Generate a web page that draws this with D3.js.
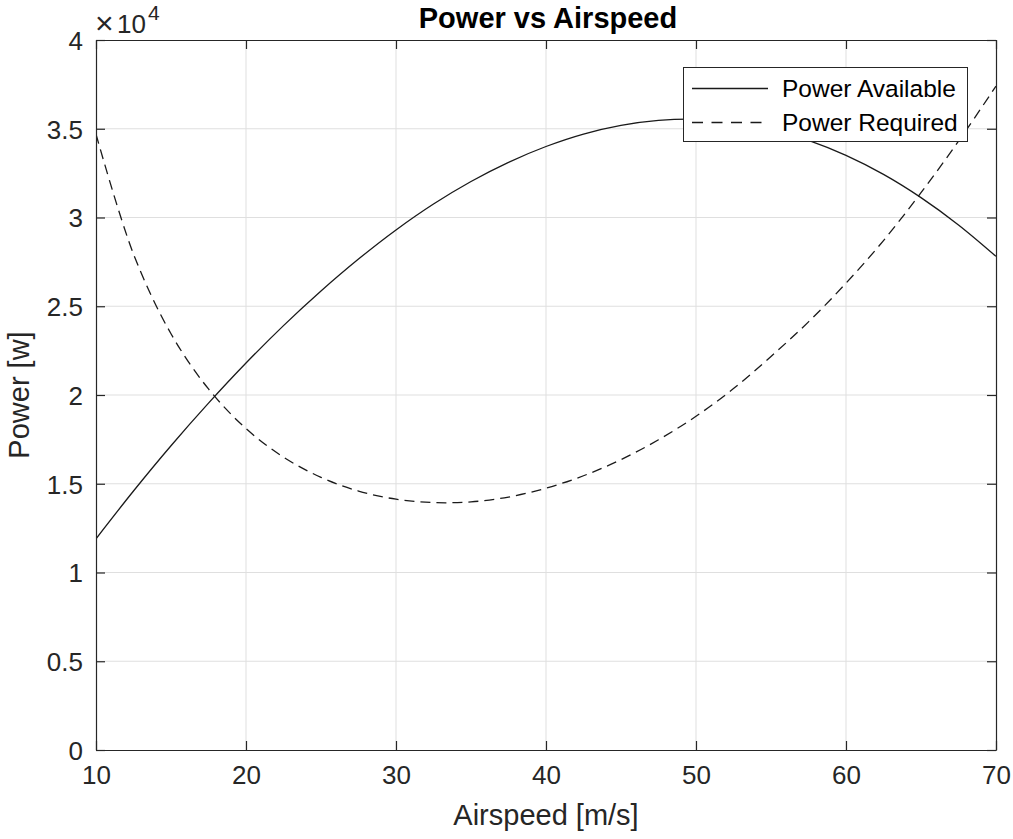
<!DOCTYPE html>
<html>
<head>
<meta charset="utf-8">
<script src="https://cdn.jsdelivr.net/npm/d3@7"></script>
<style>
  body { margin: 0; background: #fff; }
  svg { display: block; font-family: "Liberation Sans", Arial, sans-serif; }
</style>
</head>
<body>
<div id="main"></div>
<script>
// airspeed samples [m/s]
const airspeed = [10, 12.5, 15, 17.5, 20, 22.5, 25, 27.5, 30, 32.5, 35, 37.5, 40,
                  42.5, 45, 47.5, 50, 52.5, 55, 57.5, 60, 62.5, 65, 67.5, 70]

// power [W]
const powerAvailable = [11900, 14590, 17140, 19540, 21800, 23910, 25860, 27660, 29300,
                        30760, 32030, 33110, 34000, 34700, 35190, 35470, 35540, 35370,
                        34970, 34350, 33500, 32430, 31120, 29580, 27810]
const powerRequired = [34700, 27940, 23450, 20340, 18110, 16500, 15360, 14590, 14130,
                       13940, 13980, 14250, 14750, 15450, 16360, 17480, 18800, 20360,
                       22170, 24120, 26300, 28700, 31400, 34300, 37400]

const xTicks = [10, 20, 30, 40, 50, 60, 70]
const yTicks = [0, 5000, 10000, 15000, 20000, 25000, 30000, 35000, 40000]
const yTickLabels = ["0", "0.5", "1", "1.5", "2", "2.5", "3", "3.5", "4"]

const seriesNames = ["Power Available", "Power Required"]

let width = 1013
let height = 839
let margin = {left: 96, top: 40, right: 17, bottom: 89}
let plotW = width - margin.left - margin.right
let plotH = height - margin.top - margin.bottom
let ink = "#262626"

let svg = d3.select("#main")
            .append("svg")
            .attr("width", width)
            .attr("height", height)

const xScale = d3.scaleLinear().domain([10, 70]).range([margin.left, margin.left + plotW])
const yScale = d3.scaleLinear().domain([0, 40000]).range([margin.top + plotH, margin.top])

// grid
svg.append("g")
   .selectAll("line")
   .data(xTicks.slice(1, -1))
   .enter()
   .append("line")
   .attr("x1", d => xScale(d)).attr("x2", d => xScale(d))
   .attr("y1", margin.top).attr("y2", margin.top + plotH)
   .attr("stroke", "#dfdfdf").attr("stroke-width", 1)

svg.append("g")
   .selectAll("line")
   .data(yTicks.slice(1, -1))
   .enter()
   .append("line")
   .attr("x1", margin.left).attr("x2", margin.left + plotW)
   .attr("y1", d => yScale(d)).attr("y2", d => yScale(d))
   .attr("stroke", "#dfdfdf").attr("stroke-width", 1)

// curves
svg.append("clipPath").attr("id", "plotclip")
   .append("rect")
   .attr("x", margin.left).attr("y", margin.top)
   .attr("width", plotW).attr("height", plotH)

let line = d3.line()
             .x((d, i) => xScale(airspeed[i]))
             .y(d => yScale(d))
             .curve(d3.curveCatmullRom)

svg.append("path")
   .datum(powerAvailable)
   .attr("d", line)
   .attr("clip-path", "url(#plotclip)")
   .attr("fill", "none")
   .attr("stroke", "#1a1a1a")
   .attr("stroke-width", 1.3)

svg.append("path")
   .datum(powerRequired)
   .attr("d", line)
   .attr("clip-path", "url(#plotclip)")
   .attr("fill", "none")
   .attr("stroke", "#1a1a1a")
   .attr("stroke-width", 1.3)
   .attr("stroke-dasharray", "10,6")

// axes (box with inward ticks on all sides)
let tickLen = 9
let xAxisB = d3.axisBottom(xScale).tickValues(xTicks).tickSizeInner(-tickLen).tickSizeOuter(0).tickPadding(16)
let xAxisT = d3.axisTop(xScale).tickValues(xTicks).tickSizeInner(-tickLen).tickSizeOuter(0).tickFormat("")
let yAxisL = d3.axisLeft(yScale).tickValues(yTicks).tickSizeInner(-tickLen).tickSizeOuter(0).tickPadding(13)
               .tickFormat((d, i) => yTickLabels[i])
let yAxisR = d3.axisRight(yScale).tickValues(yTicks).tickSizeInner(-tickLen).tickSizeOuter(0).tickFormat("")

let gxb = svg.append("g").attr("transform", `translate(0, ${margin.top + plotH})`).call(xAxisB)
let gxt = svg.append("g").attr("transform", `translate(0, ${margin.top})`).call(xAxisT)
let gyl = svg.append("g").attr("transform", `translate(${margin.left}, 0)`).call(yAxisL)
let gyr = svg.append("g").attr("transform", `translate(${margin.left + plotW}, 0)`).call(yAxisR)

for (let g of [gxb, gxt, gyl, gyr]) {
  g.select(".domain").attr("stroke", ink).attr("stroke-width", 1.2)
  g.selectAll(".tick line").attr("stroke", ink).attr("stroke-width", 1.2)
  g.selectAll(".tick text")
   .attr("fill", ink)
   .style("font-size", "26px")
   .style("font-family", "'Liberation Sans', Arial, sans-serif")
}
gyl.selectAll(".tick text").attr("dy", "0.36em")

// exponent label  x10^4
let expo = svg.append("text").attr("fill", ink)
expo.append("tspan").attr("x", 95).attr("y", 34).style("font-size", "32px").style("font-weight", "300").text("\u00d7")
expo.append("tspan").attr("x", 117).attr("y", 33).style("font-size", "26px").text("10")
expo.append("tspan").attr("x", 148).attr("y", 20).style("font-size", "21px").text("4")

// labels
svg.append("text")
   .attr("x", xScale(40))
   .attr("y", 825)
   .attr("text-anchor", "middle")
   .attr("fill", ink)
   .style("font-size", "29px")
   .text("Airspeed [m/s]")

svg.append("text")
   .attr("transform", `translate(29, ${margin.top + plotH / 2}) rotate(-90)`)
   .attr("text-anchor", "middle")
   .attr("fill", ink)
   .style("font-size", "29px")
   .text("Power [w]")

svg.append("text")
   .attr("x", 548)
   .attr("y", 28)
   .attr("text-anchor", "middle")
   .attr("fill", "#000")
   .style("font-size", "29px")
   .style("font-weight", "bold")
   .text("Power vs Airspeed")

// legend
let legend = svg.append("g")
legend.append("rect")
      .attr("x", 683.5).attr("y", 67.5)
      .attr("width", 284).attr("height", 74)
      .attr("fill", "#fff")
      .attr("stroke", ink)
      .attr("stroke-width", 1)

let rows = legend.selectAll("g.row")
                 .data(seriesNames)
                 .enter()
                 .append("g")
                 .attr("class", "row")
                 .attr("transform", (d, i) => `translate(0, ${88.5 + i * 34})`)

rows.append("line")
    .attr("x1", 692).attr("x2", 768)
    .attr("y1", 0).attr("y2", 0)
    .attr("stroke", "#1a1a1a")
    .attr("stroke-width", 1.3)
    .attr("stroke-dasharray", (d, i) => i === 1 ? "11,8.5" : null)

rows.append("text")
    .attr("x", 782)
    .attr("y", 0)
    .attr("dy", "0.36em")
    .attr("fill", "#000")
    .style("font-size", "24.5px")
    .text(d => d)
</script>
</body>
</html>
